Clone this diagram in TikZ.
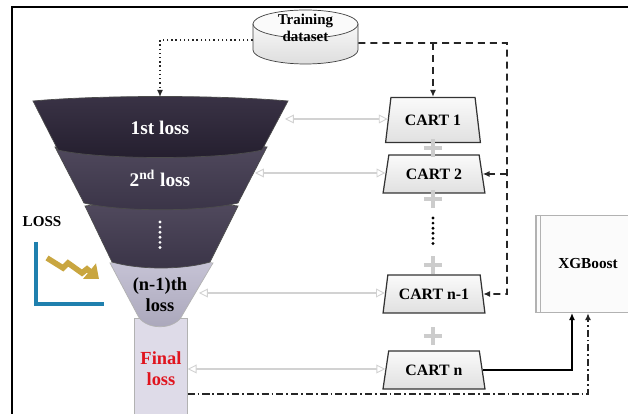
\documentclass[tikz,border=0pt]{standalone}
\usepackage{fontspec}
\setmainfont{Liberation Serif}
\usetikzlibrary{shapes.geometric,shapes.misc,arrows.meta}

\definecolor{segA}{HTML}{3A3346}
\definecolor{segB}{HTML}{241E2E}
\definecolor{segC}{HTML}{514A5E}
\definecolor{segD}{HTML}{3A3447}
\definecolor{segE}{HTML}{C7C4D6}
\definecolor{segF}{HTML}{A9A6BA}
\definecolor{finfill}{HTML}{DEDBE8}
\definecolor{finred}{HTML}{E0141E}
\definecolor{axisblue}{HTML}{1F80AE}
\definecolor{zigzag}{HTML}{C9A640}

\tikzset{
  cart/.style={trapezium, trapezium left angle=75, trapezium right angle=75,
    trapezium stretches=true, draw=gray!40!black, line width=0.7pt,
    top color=gray!4, bottom color=gray!24, minimum width=2.04cm,
    minimum height=0.76cm, inner sep=1pt, font=\bfseries\small},
  plus/.style={cross out, draw=gray!40, line width=2.6pt, rotate=45,
    minimum size=0.17cm, inner sep=0pt},
  link/.style={draw=gray!35, line width=1.3pt,
    {Triangle[fill=white, length=5pt, width=5pt, line width=0.5pt]}-{Triangle[fill=white, length=5pt, width=5pt, line width=0.5pt]}},
  tip/.style={-{Latex[length=4pt, width=3.5pt]}},
  dashline/.style={tip, draw=gray!30!black, line width=1pt, dash pattern=on 4pt off 2.8pt},
  dotline/.style={tip, draw=gray!30!black, line width=0.8pt, dash pattern=on 0.8pt off 1.6pt},
  dashdotline/.style={tip, draw=gray!30!black, line width=0.9pt, dash pattern=on 4pt off 1.7pt on 1pt off 1.7pt},
  seglabel/.style={text=white, font=\bfseries\fontsize{11}{12}\selectfont},
  segdraw/.style={draw=black!70, line width=0.4pt}
}

\begin{document}
\begin{tikzpicture}[x=0.2mm, y=-0.2mm]
\useasboundingbox (0,0) rectangle (628,414);
\draw[line width=1.4pt] (12,414) -- (12,7) -- (628,7);

% funnel, drawn from the bottom up
\node[draw=gray!60, fill=finfill, minimum width=0.96cm, minimum height=2.04cm, align=center,
  text=finred, font=\bfseries\fontsize{10.5}{12}\selectfont] (fin) at (161,369) {Final\\loss};
\shade[segdraw, draw=gray!60, top color=segE, bottom color=segF] (110,263) -- (137,314)
  .. controls (144,331) and (176,331) .. (183,314) -- (213,263)
  .. controls (180,259) and (143,259) .. (110,263) -- cycle;
\shade[segdraw, top color=segC, bottom color=segD] (85,206) -- (112,262)
  .. controls (140,270) and (182,270) .. (210,262) -- (238,206)
  .. controls (200,201) and (123,201) .. (85,206) -- cycle;
\shade[segdraw, top color=segC, bottom color=segD] (55,147) -- (84,203)
  .. controls (120,212) and (202,212) .. (238,203) -- (267,147)
  .. controls (200,141) and (122,141) .. (55,147) -- cycle;
\shade[segdraw, top color=segA, bottom color=segB] (33,101) -- (58,150)
  .. controls (100,160) and (220,160) .. (262,150) -- (288,101)
  .. controls (220,95) and (100,95) .. (33,101) -- cycle;
\node[seglabel] (l1) at (160,128) {1st loss};
\node[seglabel] (l2) at (160,178) {2\textsuperscript{nd} loss};
\draw[white, line width=1.8pt, line cap=round, dash pattern=on 0pt off 2.9pt] (160,222) -- (160,252);
\node[align=center, font=\bfseries\fontsize{10.5}{12}\selectfont] (l4) at (160,295) {(n-1)th\\loss};

\coordinate (ftop) at (160,97);
\coordinate (s1r) at (285,119);
\coordinate (s2r) at (255,173);
\coordinate (s4r) at (199,293);

% loss sign
\node[font=\bfseries\fontsize{8.6}{10}\selectfont] (losstxt) at (42,222) {LOSS};
\draw[axisblue, line width=2.8pt] (36,242) -- (36,304) -- (104,304);
\draw[zigzag, line width=3.2pt, -{Triangle[length=7pt, width=11pt]}]
  (47,258) -- (63,268) -- (68,263) -- (82,273) -- (87,269) -- (99,279);

% training data
\shade[draw=gray!50!black, top color=gray!6, bottom color=gray!26] (253,24) -- (253,50)
  arc[start angle=180, end angle=360, x radius=1.05cm, y radius=0.28cm] -- (358,24) -- cycle;
\draw[gray!50!black, fill=gray!4] (305.5,24) ellipse [x radius=1.05cm, y radius=0.28cm];
\node[minimum width=2.1cm, align=center, font=\bfseries\fontsize{8.5}{9.5}\selectfont]
  (data) at (305.5,28) {Training\\dataset};

% trees
\node[cart, minimum height=0.9cm, minimum width=1.9cm] (cart1) at (433,120) {CART 1};
\node[cart] (cart2) at (434,174) {CART 2};
\node[cart] (cartn1) at (434,294) {CART n-1};
\node[cart] (cartn) at (434,370) {CART n};
\node[plus] (p1) at (433,148) {};
\node[plus] (p2) at (433,199) {};
\node[plus] (p3) at (433,265) {};
\node[plus] (p4) at (433,336) {};
\draw[line width=1.8pt, line cap=round, dash pattern=on 0pt off 2.9pt] (433,218) -- (433,247);

\node[draw=gray!60, fill=gray!3, line width=0.8pt, minimum width=2.08cm, minimum height=1.94cm,
  font=\bfseries\fontsize{8.7}{10}\selectfont] (xgb) at (588,264) {XGBoost};
\draw[gray!60] ([xshift=0.11cm]xgb.north west) -- ([xshift=0.11cm]xgb.south west);

\coordinate (dr) at (507,43);

\draw[link] (s1r) -- (s1r -| cart1.west);
\draw[link] (s2r) -- (s2r -| cart2.west);
\draw[link] (s4r) -- (s4r -| cartn1.west);
\draw[link] (fin.east) -- (fin.east -| cartn.west);

\draw[dotline] ([yshift=-0.24cm]data.west) -| (ftop);
\draw[dashline] ([yshift=-0.3cm]data.east) -- (dr) |- (cartn1.east);
\draw[dashline] (cart1.north |- dr) -- (cart1.north);
\draw[dashline] (dr |- cart2.east) -- (cart2.east);
\draw[tip, line width=0.6pt] (cartn.east) -| ([xshift=-0.32cm]xgb.south);
\draw[dashdotline] ([yshift=-0.5cm]fin.east) -| (xgb.south);
\end{tikzpicture}
\end{document}
